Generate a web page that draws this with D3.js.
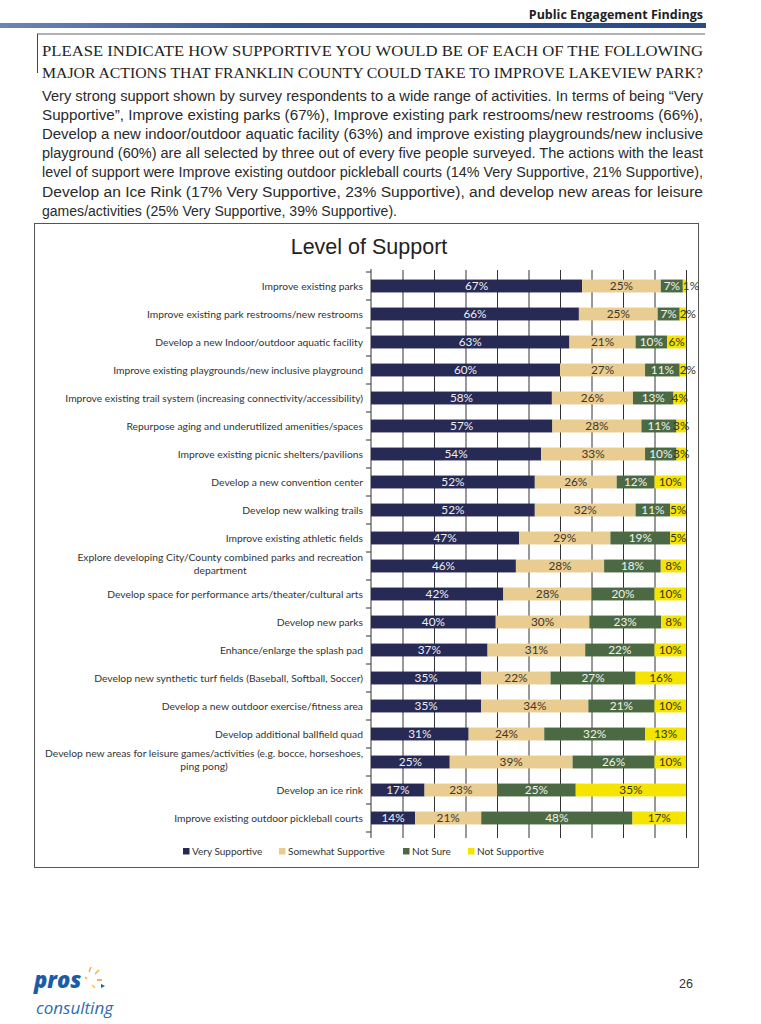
<!DOCTYPE html>
<html>
<head>
<meta charset="utf-8">
<script src="https://cdn.jsdelivr.net/npm/d3@7/dist/d3.min.js"></script>
<style>
  body { margin: 0; background: #fff; }
  svg { display: block; }
</style>
</head>
<body>
<svg id="page" width="761" height="1024"></svg>
<script>
// ---- data ----
var categories = [
  "Improve existing parks",
  "Improve existing park restrooms/new restrooms",
  "Develop a new Indoor/outdoor aquatic facility",
  "Improve existing playgrounds/new inclusive playground",
  "Improve existing trail system (increasing connectivity/accessibility)",
  "Repurpose aging and underutilized amenities/spaces",
  "Improve existing picnic shelters/pavilions",
  "Develop a new convention center",
  "Develop new walking trails",
  "Improve existing athletic fields",
  "Explore developing City/County combined parks and recreation\ndepartment",
  "Develop space for performance arts/theater/cultural arts",
  "Develop new parks",
  "Enhance/enlarge the splash pad",
  "Develop new synthetic turf fields (Baseball, Softball, Soccer)",
  "Develop a new outdoor exercise/fitness area",
  "Develop additional ballfield quad",
  "Develop new areas for leisure games/activities (e.g. bocce, horseshoes,\nping pong)",
  "Develop an ice rink",
  "Improve existing outdoor pickleball courts"
];
var verySupportive     = [67, 66, 63, 60, 58, 57, 54, 52, 52, 47, 46, 42, 40, 37, 35, 35, 31, 25, 17, 14];
var somewhatSupportive = [25, 25, 21, 27, 26, 28, 33, 26, 32, 29, 28, 28, 30, 31, 22, 34, 24, 39, 23, 21];
var notSure            = [7, 7, 10, 11, 13, 11, 10, 12, 11, 19, 18, 20, 23, 22, 27, 21, 32, 26, 25, 48];
var notSupportive      = [1, 2, 6, 2, 4, 3, 3, 10, 5, 5, 8, 10, 8, 10, 16, 10, 13, 10, 35, 17];
var seriesNames = ["Very Supportive", "Somewhat Supportive", "Not Sure", "Not Supportive"];
var xTicks = [0, 0.1, 0.2, 0.3, 0.4, 0.5, 0.6, 0.7, 0.8, 0.9, 1];

var heading = [
  "PLEASE INDICATE HOW SUPPORTIVE YOU WOULD BE OF EACH OF THE FOLLOWING",
  "MAJOR ACTIONS THAT FRANKLIN COUNTY COULD TAKE TO IMPROVE LAKEVIEW PARK?"
];
var bodyLines = [
  "Very strong support shown by survey respondents to a wide range of activities. In terms of being \u201cVery",
  "Supportive\u201d, Improve existing parks (67%), Improve existing park restrooms/new restrooms (66%),",
  "Develop a new indoor/outdoor aquatic facility (63%) and improve existing playgrounds/new inclusive",
  "playground (60%) are all selected by three out of every five people surveyed. The actions with the least",
  "level of support were Improve existing outdoor pickleball courts (14% Very Supportive, 21% Supportive),",
  "Develop an Ice Rink (17% Very Supportive, 23% Supportive), and develop new areas for leisure",
  "games/activities (25% Very Supportive, 39% Supportive)."
];

var colors = {
  "Very Supportive": "#272a55",
  "Somewhat Supportive": "#e9cc90",
  "Not Sure": "#4b6a43",
  "Not Supportive": "#f4e400"
};
var labelColors = {
  "Very Supportive": "#eeeef4",
  "Somewhat Supportive": "#3b382c",
  "Not Sure": "#f2f2ee",
  "Not Supportive": "#35331c"
};

var svg = d3.select("#page");

// ---- page header ----
var defs = svg.append("defs");
var grad = defs.append("linearGradient").attr("id", "hdr");
grad.append("stop").attr("offset", "0%").attr("stop-color", "#6d86b4");
grad.append("stop").attr("offset", "40%").attr("stop-color", "#34528f");
grad.append("stop").attr("offset", "100%").attr("stop-color", "#2b4a89");

svg.append("text")
  .attr("x", 703).attr("y", 19)
  .attr("text-anchor", "end")
  .style("font-family", "'Open Sans', sans-serif")
  .style("font-weight", "bold")
  .style("font-size", "12.5px")
  .style("fill", "#222")
  .text("Public Engagement Findings");
svg.append("rect").attr("x", 0).attr("y", 23).attr("width", 706).attr("height", 5).attr("fill", "url(#hdr)");

// boxed question
svg.append("line").attr("x1", 37).attr("x2", 705).attr("y1", 34).attr("y2", 34).attr("stroke", "#666").attr("stroke-width", 1);
svg.append("line").attr("x1", 37.5).attr("x2", 37.5).attr("y1", 34).attr("y2", 73).attr("stroke", "#444").attr("stroke-width", 1);

// squeeze (or stretch) each printed line to the column width
function fitLine(sel, width) {
  sel.attr("textLength", width).attr("lengthAdjust", "spacingAndGlyphs");
}

svg.selectAll("text.heading").data(heading).enter().append("text")
  .attr("class", "heading")
  .attr("x", 42).attr("y", function(d, i) { return 56 + i * 21.5; })
  .style("font-family", "'Liberation Serif', serif")
  .style("font-size", "15.5px")
  .style("fill", "#222")
  .text(function(d) { return d; })
  .call(fitLine, 661);

var body = svg.selectAll("text.body").data(bodyLines).enter().append("text")
  .attr("class", "body")
  .attr("x", 42).attr("y", function(d, i) { return 101 + i * 19.1; })
  .style("font-family", "'Liberation Sans', sans-serif")
  .style("font-size", "14px")
  .style("fill", "#2a2a2a")
  .text(function(d) { return d; });
body.filter(function(d, i) { return i < bodyLines.length - 1; }).call(fitLine, 661);
body.filter(function(d, i) { return i === bodyLines.length - 1; }).call(fitLine, 355);

// ---- chart frame ----
svg.append("rect").attr("x", 34.5).attr("y", 223.5).attr("width", 664).attr("height", 644)
  .attr("fill", "none").attr("stroke", "#555").attr("stroke-width", 1);

svg.append("text")
  .attr("x", 369).attr("y", 254)
  .attr("text-anchor", "middle")
  .style("font-family", "'Liberation Sans', Arial, sans-serif")
  .style("font-size", "21.5px")
  .style("fill", "#222")
  .text("Level of Support");

// ---- stacked 100% bars ----
var rows = categories.map(function(c, i) {
  return {
    category: c,
    "Very Supportive": verySupportive[i],
    "Somewhat Supportive": somewhatSupportive[i],
    "Not Sure": notSure[i],
    "Not Supportive": notSupportive[i]
  };
});

var stack = d3.stack().keys(seriesNames).offset(d3.stackOffsetExpand);
var layers = stack(rows);

var plot = { left: 371, right: 686, top: 272, bottom: 832 };
var x = d3.scaleLinear().domain([0, 1]).range([plot.left, plot.right]);
var y = d3.scaleBand().domain(categories).range([plot.top, plot.bottom]).paddingInner(0.54).paddingOuter(0.27);

var chart = svg.append("g");

// vertical gridlines, ticks poke below the plot
var grid = chart.append("g")
  .attr("transform", "translate(0," + plot.bottom + ")")
  .call(d3.axisBottom(x).tickValues(xTicks.slice(1)).tickSize(-(plot.bottom - plot.top + 2)).tickFormat(""));
grid.select(".domain").remove();
grid.selectAll(".tick line").attr("y1", 6).attr("stroke", "#333").attr("stroke-width", 1);

// value axis line and category boundary ticks
chart.append("line").attr("x1", plot.left).attr("x2", plot.left)
  .attr("y1", plot.top - 3).attr("y2", plot.bottom + 6).attr("stroke", "#333");
chart.selectAll("line.ytick").data(d3.range(categories.length + 1)).enter().append("line")
  .attr("class", "ytick")
  .attr("x1", plot.left - 5).attr("x2", plot.left)
  .attr("y1", function(i) { return plot.top + i * y.step(); })
  .attr("y2", function(i) { return plot.top + i * y.step(); })
  .attr("stroke", "#333");

var layer = chart.selectAll("g.layer").data(layers).enter().append("g").attr("class", "layer");
layer.selectAll("rect").data(function(d) { return d; }).enter().append("rect")
  .attr("x", function(d) { return x(d[0]); })
  .attr("width", function(d) { return x(d[1]) - x(d[0]); })
  .attr("y", function(d) { return y(d.data.category); })
  .attr("height", y.bandwidth())
  .attr("fill", function(d) { return colors[d3.select(this.parentNode).datum().key]; });

// data labels (tiny slices start at their left edge, as the printed ones spill right)
layers.forEach(function(l) {
  chart.append("g").selectAll("text").data(l).enter().append("text")
    .attr("x", function(d) {
      return d.data[l.key] <= 2 ? x(d[0]) : (x(d[0]) + x(d[1])) / 2;
    })
    .attr("y", function(d) { return y(d.data.category) + y.bandwidth() / 2 + 4.2; })
    .attr("text-anchor", function(d) { return d.data[l.key] <= 2 ? "start" : "middle"; })
    .style("font-family", "Lato, 'Open Sans', sans-serif")
    .style("font-size", "11.8px")
    .style("fill", labelColors[l.key])
    .text(function(d) { return d.data[l.key] + "%"; });
});

// category labels
var catG = chart.selectAll("g.cat").data(categories).enter().append("g").attr("class", "cat");
catG.each(function(c) {
  var g = d3.select(this);
  var lines = c.split("\n");
  var cy = y(c) + y.bandwidth() / 2;
  var texts = g.selectAll("text").data(lines).enter().append("text")
    .attr("y", function(d, i) { return cy + 3.5 + (i - (lines.length - 1) / 2) * 12.5 - (lines.length > 1 ? 2 : 0); })
    .style("font-family", "Lato, 'Open Sans', sans-serif")
    .style("font-size", "10.3px")
    .style("fill", "#333")
    .text(function(d) { return d; });
  if (lines.length === 1) {
    texts.attr("x", 363).attr("text-anchor", "end");
  } else {
    var w = d3.max(texts.nodes(), function(n) { return n.getComputedTextLength(); });
    texts.attr("x", 363 - w / 2).attr("text-anchor", "middle");
  }
});

// legend
var legendX = [183, 279, 403, 468];
var legend = chart.selectAll("g.legend").data(seriesNames).enter().append("g")
  .attr("class", "legend")
  .attr("transform", function(d, i) { return "translate(" + legendX[i] + ",853)"; });
legend.append("rect").attr("x", 0).attr("y", -5).attr("width", 6.5).attr("height", 6.5)
  .attr("fill", function(d) { return colors[d]; });
legend.append("text").attr("x", 9).attr("y", 2)
  .style("font-family", "Lato, 'Open Sans', sans-serif")
  .style("font-size", "10px")
  .style("fill", "#333")
  .text(function(d) { return d; });

// ---- footer ----
svg.append("text").attr("x", 34).attr("y", 988)
  .style("font-family", "'Open Sans', sans-serif").style("font-style", "italic")
  .style("font-weight", "800").style("font-size", "22px").style("fill", "#1b5ca6").text("pros");
svg.append("text").attr("x", 36).attr("y", 1014)
  .style("font-family", "'Open Sans', sans-serif").style("font-style", "italic")
  .style("font-size", "17px").style("fill", "#2b6db3").text("consulting");
var spark = [[89, 972, 91, 967, "#f2b33d"], [95, 974, 99, 970, "#f2b33d"], [97, 980, 102, 980, "#e8962b"],
             [92, 985, 95, 988, "#f5c84a"], [85, 977, 87, 979, "#f2b33d"]];
svg.selectAll("line.spark").data(spark).enter().append("line")
  .attr("x1", function(d) { return d[0]; }).attr("y1", function(d) { return d[1]; })
  .attr("x2", function(d) { return d[2]; }).attr("y2", function(d) { return d[3]; })
  .attr("stroke", function(d) { return d[4]; }).attr("stroke-width", 1.5);
svg.append("path").attr("d", "M101,984 l4,2 l-4,2 z").attr("fill", "#1b5ca6");

svg.append("text").attr("x", 679).attr("y", 988)
  .style("font-family", "'Liberation Sans', sans-serif").style("font-size", "12.5px")
  .style("fill", "#333").text("26");
</script>
</body>
</html>
